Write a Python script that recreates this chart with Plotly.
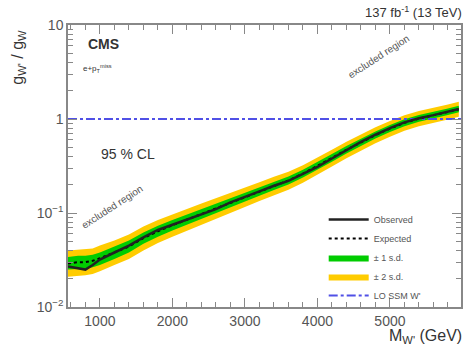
import plotly.graph_objects as go

mass = [560, 700, 800, 900, 1000, 1200, 1400, 1600, 1800, 2000, 2200, 2400, 2600, 2800, 3000,
        3200, 3400, 3600, 3800, 4000, 4200, 4400, 4600, 4800, 5000, 5200, 5400, 5600, 5800, 5950]
observed = [0.027, 0.026, 0.025, 0.028, 0.032, 0.038, 0.045, 0.055, 0.066, 0.075, 0.085, 0.097, 0.110, 0.130, 0.150,
            0.170, 0.195, 0.220, 0.260, 0.310, 0.380, 0.470, 0.570, 0.680, 0.800, 0.920, 1.020, 1.100, 1.200, 1.280]
expected = [0.029, 0.030, 0.030, 0.031, 0.033, 0.038, 0.044, 0.054, 0.064, 0.074, 0.085, 0.098, 0.112, 0.130, 0.148,
            0.170, 0.195, 0.222, 0.262, 0.315, 0.385, 0.470, 0.565, 0.675, 0.790, 0.910, 1.010, 1.090, 1.190, 1.270]
up1 = [0.034, 0.035, 0.035, 0.036, 0.038, 0.044, 0.051, 0.062, 0.073, 0.084, 0.096, 0.110, 0.125, 0.145, 0.165,
       0.189, 0.216, 0.245, 0.289, 0.347, 0.423, 0.516, 0.619, 0.738, 0.863, 0.993, 1.101, 1.188, 1.296, 1.383]
dn1 = [0.025, 0.0255, 0.0255, 0.0265, 0.028, 0.0325, 0.038, 0.047, 0.056, 0.065, 0.075, 0.087, 0.100, 0.117, 0.133,
       0.153, 0.176, 0.201, 0.238, 0.287, 0.351, 0.430, 0.518, 0.620, 0.727, 0.839, 0.933, 1.008, 1.102, 1.177]
up2 = [0.040, 0.041, 0.041, 0.042, 0.045, 0.051, 0.059, 0.072, 0.084, 0.097, 0.110, 0.126, 0.143, 0.165, 0.187,
       0.213, 0.243, 0.275, 0.323, 0.386, 0.470, 0.572, 0.686, 0.818, 0.955, 1.098, 1.216, 1.310, 1.428, 1.524]
dn2 = [0.021, 0.0215, 0.0217, 0.0225, 0.024, 0.028, 0.0325, 0.040, 0.048, 0.056, 0.065, 0.075, 0.087, 0.101, 0.116,
       0.134, 0.155, 0.177, 0.210, 0.254, 0.312, 0.382, 0.461, 0.553, 0.649, 0.750, 0.835, 0.903, 0.988, 1.055]
ssm_mass = [560, 5980]
ssm_coupling = [1, 1]

x_ticks = [1000, 2000, 3000, 4000, 5000]
y_ticks = [0.01, 0.1, 1, 10]
y_ticktext = ["10<sup>−2</sup>", "10<sup>−1</sup>", "1", "10"]

GREEN = "#00cc00"
YELLOW = "#ffcc00"
TXT = "#333333"
AX = "#888888"

L, R, T, B = 68, 5, 25, 40
W, H = 468, 347
PW, PH = W - L - R, H - T - B


def px(xp):
    return (xp - L) / PW


def py(yp):
    return (H - B - yp) / PH


fig = go.Figure()
fig.add_trace(go.Scatter(x=mass, y=dn2, mode="lines", line=dict(width=0, color=YELLOW),
                         showlegend=False, hoverinfo="skip"))
fig.add_trace(go.Scatter(x=mass, y=up2, mode="lines", line=dict(width=0, color=YELLOW),
                         fill="tonexty", fillcolor=YELLOW, name="± 2 s.d.", legendrank=4))
fig.add_trace(go.Scatter(x=mass, y=dn1, mode="lines", line=dict(width=0, color=GREEN),
                         showlegend=False, hoverinfo="skip"))
fig.add_trace(go.Scatter(x=mass, y=up1, mode="lines", line=dict(width=0, color=GREEN),
                         fill="tonexty", fillcolor=GREEN, name="± 1 s.d.", legendrank=3))
fig.add_trace(go.Scatter(x=ssm_mass, y=ssm_coupling, mode="lines",
                         line=dict(color="#5050e6", width=2, dash="dashdot"), name="LO SSM W'", legendrank=5))
fig.add_trace(go.Scatter(x=mass, y=expected, mode="lines",
                         line=dict(color="black", width=2, dash="dot"), name="Expected", legendrank=2))
fig.add_trace(go.Scatter(x=mass, y=observed, mode="lines",
                         line=dict(color="#222222", width=2.5), name="Observed", legendrank=1))

fig.update_layout(
    width=W, height=H,
    margin=dict(l=L, r=R, t=T, b=B),
    paper_bgcolor="white", plot_bgcolor="white",
    font=dict(family="Liberation Sans, Arial, sans-serif", color=TXT, size=13),
    legend=dict(x=px(325), y=py(205), xanchor="left", yanchor="top", bgcolor="rgba(0,0,0,0)",
                traceorder="normal", font=dict(size=9, color="#555555"), itemwidth=40, tracegroupgap=0),
    xaxis=dict(range=[560, 5980], tickvals=x_ticks, ticks="inside", ticklen=9, tickcolor=AX,
               showline=True, linecolor=AX, linewidth=1.5, mirror="ticks", showgrid=False, zeroline=False,
               tickfont=dict(size=14, color="#555555"),
               minor=dict(ticks="inside", ticklen=5, dtick=200, tickcolor=AX, showgrid=False)),
    yaxis=dict(type="log", range=[-2, 1], tickvals=y_ticks, ticktext=y_ticktext, ticks="inside",
               ticklen=9, tickcolor=AX, showline=True, linecolor=AX, linewidth=1.5, mirror="ticks",
               showgrid=False, zeroline=False, tickfont=dict(size=14, color="#555555"),
               minor=dict(ticks="inside", ticklen=5, tickcolor=AX, showgrid=False,
                          tickvals=[0.02, 0.03, 0.04, 0.05, 0.06, 0.07, 0.08, 0.09,
                                    0.2, 0.3, 0.4, 0.5, 0.6, 0.7, 0.8, 0.9,
                                    2, 3, 4, 5, 6, 7, 8, 9])),
)

ann = [
    dict(text="<b>CMS</b>", x=86, y=44, size=14, xanchor="left"),
    dict(text="e+p<sub>T</sub><sup>miss</sup>", x=81, y=68, size=8, xanchor="left"),
    dict(text="95 % CL", x=99, y=154, size=14, xanchor="left"),
    dict(text="137 fb<sup>-1</sup> (13 TeV)", x=466, y=12, size=13, xanchor="right"),
    dict(text="M<sub>W'</sub> (GeV)", x=466, y=336, size=16, xanchor="right"),
]
for a in ann:
    fig.add_annotation(text=a["text"], x=px(a["x"]), y=py(a["y"]), xref="paper", yref="paper",
                       xanchor=a["xanchor"], yanchor="middle", showarrow=False,
                       font=dict(size=a["size"], color=TXT))

fig.add_annotation(text="g<sub>W'</sub> / g<sub>W</sub>", x=px(18), y=py(28), xref="paper", yref="paper",
                   xanchor="center", yanchor="top", textangle=-90, showarrow=False,
                   font=dict(size=16, color=TXT))
for (cx, cy) in [(113, 207), (380, 56)]:
    fig.add_annotation(text="excluded region", x=px(cx), y=py(cy), xref="paper", yref="paper",
                       xanchor="center", yanchor="middle", textangle=-33, showarrow=False,
                       font=dict(size=10, color="#555555"))

fig.write_html("out.html")
